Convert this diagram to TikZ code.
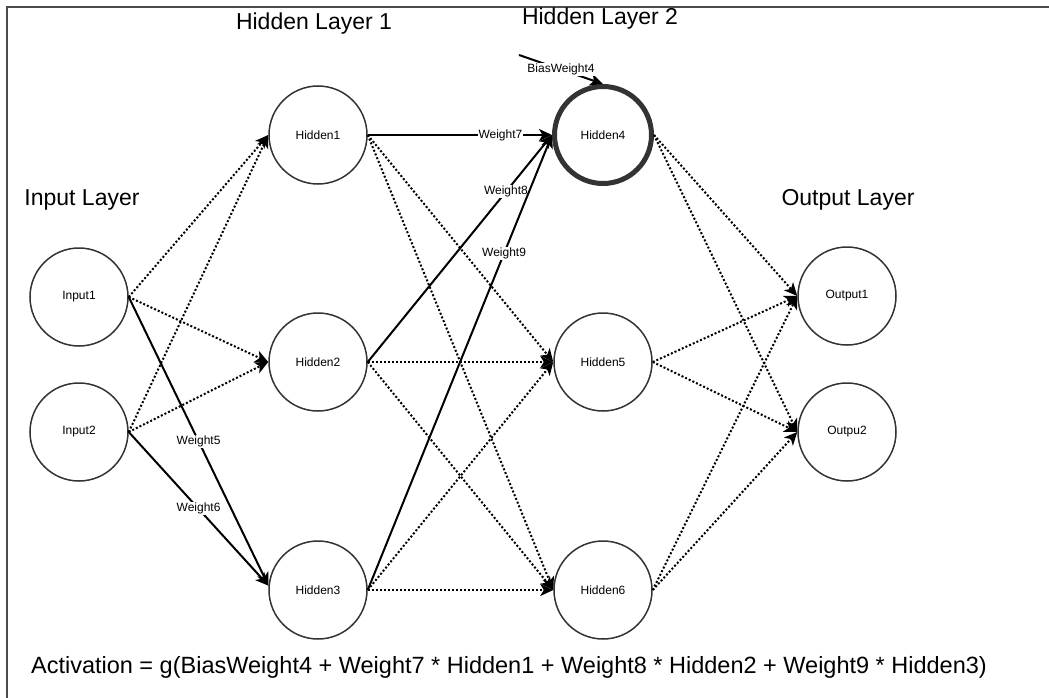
\documentclass[tikz,border=0pt]{standalone}
\usepackage{fontspec}
\setmainfont{Liberation Sans}
\usetikzlibrary{arrows.meta}
\begin{document}
\begin{tikzpicture}[x=1pt,y=-1pt,
  neuron/.style={circle,draw=black!80,fill=white,line width=1.5pt,minimum size=98pt,inner sep=0pt,font=\fontsize{12}{14}\selectfont},
  biasneuron/.style={neuron,line width=5pt,minimum size=97pt},
  title/.style={inner sep=0pt,font=\fontsize{23}{27}\selectfont},
  wlabel/.style={fill=white,inner sep=1pt,font=\fontsize{12}{14}\selectfont},
  tip/.style={-{Stealth[length=13pt,width=12pt,inset=3.5pt]}},
  dotedge/.style={tip,line width=2pt,dash pattern=on 2pt off 2pt},
  solidedge/.style={tip,line width=2pt},
]
\useasboundingbox (0,0) rectangle (1049,698);
\draw[line width=2pt,black!70] (7,698) -- (7,7) -- (1049,7);

% titles
\node[title] (tl1) at (314,24) {Hidden Layer 1};
\node[title] (tl2) at (600,19) {Hidden Layer 2};
\node[title] (tin) at (82,200) {Input Layer};
\node[title] (tout) at (848,200) {Output Layer};
\node[title,font=\fontsize{23.5}{27}\selectfont] (act) at (509,667) {Activation = g(BiasWeight4 + Weight7 * Hidden1 + Weight8 * Hidden2 + Weight9 * Hidden3)};

% neurons
\node[neuron] (in1) at (79,297) {Input1};
\node[neuron] (in2) at (79,432) {Input2};
\node[neuron] (h1) at (318,135) {Hidden1};
\node[neuron] (h2) at (318,362) {Hidden2};
\node[neuron] (h3) at (318,590) {Hidden3};
\node[biasneuron] (h4) at (603,135) {Hidden4};
\node[neuron] (h5) at (603,362) {Hidden5};
\node[neuron] (h6) at (603,590) {Hidden6};
\node[neuron] (o1) at (847,296) {Output1};
\node[neuron] (o2) at (847,432) {Outpu2};

% dotted connections
\draw[dotedge] (in1.east) -- (h1.west);
\draw[dotedge] (in1.east) -- (h2.west);
\draw[dotedge] (in2.east) -- (h1.west);
\draw[dotedge] (in2.east) -- (h2.west);
\draw[dotedge] (h1.east) -- (h5.west);
\draw[dotedge] (h1.east) -- (h6.west);
\draw[dotedge] (h2.east) -- (h5.west);
\draw[dotedge] (h2.east) -- (h6.west);
\draw[dotedge] (h3.east) -- (h5.west);
\draw[dotedge] (h3.east) -- (h6.west);
\draw[dotedge] (h4.east) -- (o1.west);
\draw[dotedge] (h4.east) -- (o2.west);
\draw[dotedge] (h5.east) -- (o1.west);
\draw[dotedge] (h5.east) -- (o2.west);
\draw[dotedge] (h6.east) -- (o1.west);
\draw[dotedge] (h6.east) -- (o2.west);

% weighted connections
\draw[solidedge] (in1.east) -- node[wlabel,pos=0.5] (w5) {Weight5} (h3.175);
\draw[solidedge] (in2.east) -- node[wlabel,pos=0.5] (w6) {Weight6} (h3.175);
\draw[solidedge] (h1.east) -- node[wlabel,pos=0.72] (w7) {Weight7} (h4.west);
\draw[solidedge] (h2.east) -- node[wlabel,pos=0.75] (w8) {Weight8} (h4.west);
\draw[solidedge] (h3.east) -- node[wlabel,pos=0.74] (w9) {Weight9} (h4.west);

% bias
\coordinate (bias) at (519,55);
\draw[solidedge] (bias) -- node[wlabel,pos=0.5] (bw) {BiasWeight4} (h4.north);
\end{tikzpicture}
\end{document}
